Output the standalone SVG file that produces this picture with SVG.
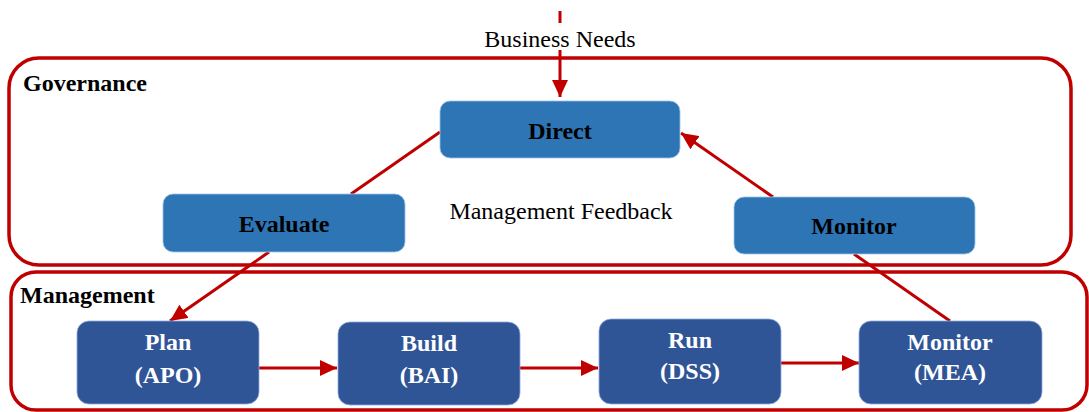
<svg xmlns="http://www.w3.org/2000/svg" width="1089" height="412" viewBox="0 0 1089 412">
<defs>
<style>
.frame{fill:none;stroke:#C00000;stroke-width:3.5}
.con{fill:none;stroke:#C00000;stroke-width:3}
.gbox{fill:#2E75B6;stroke:#9DC3E6;stroke-width:0.8}
.mbox{fill:#2F5597;stroke:#8FAADC;stroke-width:0.8}
.t{font-family:"Liberation Serif","Times New Roman",serif;font-size:24px;fill:#000}
.b{font-family:"Liberation Serif","Times New Roman",serif;font-size:24px;font-weight:bold;fill:#000}
.w{font-family:"Liberation Serif","Times New Roman",serif;font-size:24px;font-weight:bold;fill:#fff}
</style>
<marker id="ah" markerUnits="userSpaceOnUse" markerWidth="18" markerHeight="16" refX="17" refY="8" orient="auto">
<path d="M0,0 L17,8 L0,16 Z" fill="#C00000"/>
</marker>
</defs>
<g id="governance">
<rect class="frame" x="9" y="58" width="1062" height="207" rx="30" ry="30"/>
<text class="b" x="23" y="91">Governance</text>
</g>
<g id="management">
<rect class="frame" x="11" y="272" width="1076" height="138" rx="25" ry="25"/>
<text class="b" x="20" y="303">Management</text>
</g>
<g id="connectors">
<line class="con" x1="560" y1="11" x2="560" y2="23"/>
<line class="con" x1="560" y1="50" x2="560" y2="97" marker-end="url(#ah)"/>
<line class="con" x1="440" y1="132" x2="351" y2="194"/>
<line class="con" x1="269" y1="252" x2="170" y2="321" marker-end="url(#ah)"/>
<line class="con" x1="950" y1="321" x2="854" y2="254"/>
<line class="con" x1="773" y1="197" x2="681" y2="133" marker-end="url(#ah)"/>
<line class="con" x1="259" y1="368" x2="337" y2="368" marker-end="url(#ah)"/>
<line class="con" x1="520" y1="368" x2="598" y2="368" marker-end="url(#ah)"/>
<line class="con" x1="781" y1="363" x2="859" y2="363" marker-end="url(#ah)"/>
</g>
<text class="t" x="560" y="47" text-anchor="middle">Business Needs</text>
<text class="t" x="561" y="219" text-anchor="middle">Management Feedback</text>
<g id="direct">
<rect class="gbox" x="440" y="101" width="240" height="57" rx="10"/>
<text class="b" x="560" y="139" text-anchor="middle">Direct</text>
</g>
<g id="evaluate">
<rect class="gbox" x="163" y="194" width="242" height="58" rx="10"/>
<text class="b" x="284" y="232" text-anchor="middle">Evaluate</text>
</g>
<g id="monitor-gov">
<rect class="gbox" x="734" y="197" width="241" height="57" rx="10"/>
<text class="b" x="854" y="234" text-anchor="middle">Monitor</text>
</g>
<g id="plan">
<rect class="mbox" x="77" y="321" width="182" height="83" rx="12"/>
<text class="w" x="168" y="350" text-anchor="middle">Plan</text>
<text class="w" x="168" y="383" text-anchor="middle">(APO)</text>
</g>
<g id="build">
<rect class="mbox" x="338" y="322" width="182" height="83" rx="12"/>
<text class="w" x="429" y="351" text-anchor="middle">Build</text>
<text class="w" x="429" y="383" text-anchor="middle">(BAI)</text>
</g>
<g id="run">
<rect class="mbox" x="599" y="319" width="182" height="85" rx="12"/>
<text class="w" x="690" y="348" text-anchor="middle">Run</text>
<text class="w" x="690" y="379" text-anchor="middle">(DSS)</text>
</g>
<g id="monitor-mea">
<rect class="mbox" x="859" y="321" width="183" height="83" rx="12"/>
<text class="w" x="950" y="350" text-anchor="middle">Monitor</text>
<text class="w" x="950" y="380" text-anchor="middle">(MEA)</text>
</g>
</svg>
